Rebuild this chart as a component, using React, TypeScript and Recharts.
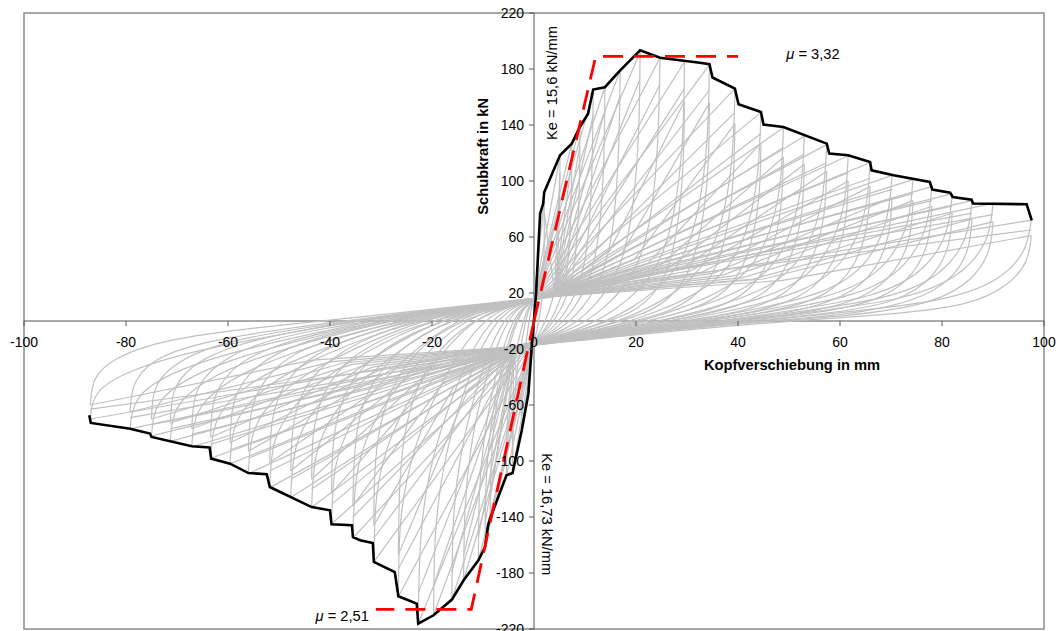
import React from "react";
import { LineChart, Line, XAxis, YAxis, ReferenceLine, ReferenceArea, ReferenceDot } from "recharts";

const xTicks = [-100, -80, -60, -40, -20, 0, 20, 40, 60, 80, 100];
const yTicks = [-220, -180, -140, -100, -60, -20, 20, 60, 100, 140, 180, 220];

// pinching points where the loops cross the force axis [mm, kN]
const pinchPos = [0, 15];
const pinchNeg = [0, -15];
const pinchPos2 = [4, 21];
const pinchNeg2 = [-4, -22];
const pinchPos3 = [2, 17];
const pinchNeg3 = [-2, -18];

// positive peaks, first cycle [mm, kN]
const posPeaks = [
  [2.0, 86], [5.1, 118], [7.4, 127], [9.0, 139], [11.6, 163], [13.9, 167], [16.9, 179],
  [20.8, 192], [24.7, 188], [29.5, 185], [34.4, 183], [39.4, 166], [44.5, 149], [48.9, 138],
  [53.0, 132], [57.4, 126], [61.6, 118], [65.9, 113], [70.2, 104], [74.3, 101], [78.0, 96],
  [82.0, 91], [85.9, 86], [90.0, 84], [97.5, 72],
];

// unloading branches after the positive peaks
const posArcs = [
  [[2.0, 60.2], [1.9, 36.1], [1.6, 17.2], [1.1, 4.3], [0.6, -6]],
  [[5.0, 82.6], [4.7, 49.6], [4.1, 23.6], [2.8, 5.9], [1.4, -6]],
  [[7.3, 88.9], [6.9, 53.3], [5.9, 25.4], [4.1, 6.4], [2.1, -6]],
  [[8.9, 97.3], [8.4, 58.4], [7.2, 27.8], [5.0, 7.0], [2.5, -6]],
  [[11.4, 114.1], [10.8, 68.5], [9.3, 32.6], [6.4, 8.2], [3.2, -6]],
  [[13.7, 116.9], [12.9, 70.1], [11.1, 33.4], [7.6, 8.4], [3.9, -6]],
  [[16.6, 125.3], [15.7, 75.2], [13.5, 35.8], [9.3, 9.0], [4.7, -6]],
  [[20.5, 134.4], [19.3, 80.6], [16.6, 38.4], [11.4, 9.6], [5.8, -6]],
  [[24.3, 131.6], [23.0, 79.0], [19.8, 37.6], [13.6, 9.4], [6.9, -6]],
  [[29.1, 129.5], [27.4, 77.7], [23.6, 37.0], [16.2, 9.3], [8.3, -6]],
  [[33.9, 128.1], [32.0, 76.9], [27.5, 36.6], [18.9, 9.2], [9.6, -6]],
  [[38.8, 116.2], [36.6, 69.7], [31.5, 33.2], [21.7, 8.3], [11.0, -6]],
  [[43.8, 104.3], [41.4, 62.6], [35.6, 29.8], [24.5, 7.5], [12.5, -6]],
  [[48.2, 96.6], [45.5, 58.0], [39.1, 27.6], [26.9, 6.9], [13.7, -6]],
  [[52.2, 92.4], [49.3, 55.4], [42.4, 26.4], [29.2, 6.6], [14.8, -6]],
  [[56.5, 88.2], [53.4, 52.9], [45.9, 25.2], [31.6, 6.3], [16.1, -6]],
  [[60.7, 82.6], [57.3, 49.6], [49.3, 23.6], [33.9, 5.9], [17.2, -6]],
  [[64.9, 79.1], [61.3, 47.5], [52.7, 22.6], [36.2, 5.7], [18.5, -6]],
  [[69.1, 72.8], [65.3, 43.7], [56.2, 20.8], [38.6, 5.2], [19.7, -6]],
  [[73.2, 70.7], [69.1, 42.4], [59.4, 20.2], [40.9, 5.1], [20.8, -6]],
  [[76.8, 67.2], [72.5, 40.3], [62.4, 19.2], [42.9, 4.8], [21.8, -6]],
  [[80.8, 63.7], [76.3, 38.2], [65.6, 18.2], [45.1, 4.6], [23.0, -6]],
  [[84.6, 60.2], [79.9, 36.1], [68.7, 17.2], [47.2, 4.3], [24.1, -6]],
  [[88.7, 58.8], [83.7, 35.3], [72.0, 16.8], [49.5, 4.2], [25.2, -6]],
  [[96.0, 50.4], [90.7, 30.2], [78.0, 14.4], [53.6, 3.6], [27.3, -6]],
];

// positive peaks, second cycle
const posPeaks2 = [
  [2.0, 78], [5.1, 106], [7.4, 114], [9.0, 125], [11.6, 147], [13.9, 150], [16.9, 161],
  [20.8, 173], [24.7, 169], [29.5, 166], [34.4, 165], [39.4, 149], [44.5, 134], [48.9, 124],
  [53.0, 119], [57.4, 113], [61.6, 106], [65.9, 102], [70.2, 94], [74.3, 91], [78.0, 86],
  [82.0, 82], [85.9, 77], [90.0, 76], [97.5, 65],
];

// third cycle: loading kink and peak, then unloading branch
const posKinks3 = [
  [14.8, 50], [17.2, 48], [19.7, 44], [22.3, 41], [24.5, 39], [26.5, 38], [28.7, 37], [30.8, 36],
  [33.0, 35], [35.1, 34], [37.2, 33], [39.0, 32], [41.0, 31], [43.0, 30], [45.0, 30], [48.8, 29],
];
const posPeaks3 = [
  [29.5, 157], [34.4, 156], [39.4, 141], [44.5, 127], [48.9, 117], [53.0, 112], [57.4, 107],
  [61.6, 100], [65.9, 96], [70.2, 88], [74.3, 86], [78.0, 82], [82.0, 77], [85.9, 73], [90.0, 71],
  [97.5, 61],
];
const posArcs3 = [
  [[29.2, 110], [28.0, 66], [25.4, 31], [20.1, 9], [11.2, -4]],
  [[34.1, 109], [32.7, 66], [29.6, 31], [23.4, 9], [13.1, -4]],
  [[39.0, 99], [37.4, 59], [33.9, 28], [26.8, 8], [15.0, -4]],
  [[44.1, 89], [42.3, 53], [38.3, 25], [30.3, 8], [16.9, -4]],
  [[48.4, 82], [46.5, 49], [42.1, 23], [33.3, 7], [18.6, -4]],
  [[52.5, 78], [50.4, 47], [45.6, 22], [36.0, 7], [20.1, -4]],
  [[56.8, 75], [54.5, 45], [49.4, 21], [39.0, 6], [21.8, -4]],
  [[61.0, 70], [58.5, 42], [53.0, 20], [41.9, 6], [23.4, -4]],
  [[65.2, 67], [62.6, 40], [56.7, 19], [44.8, 6], [25.0, -4]],
  [[69.5, 62], [66.7, 37], [60.4, 18], [47.7, 5], [26.7, -4]],
  [[73.6, 60], [70.6, 36], [63.9, 17], [50.5, 5], [28.2, -4]],
  [[77.2, 57], [74.1, 34], [67.1, 16], [53.0, 5], [29.6, -4]],
  [[81.2, 54], [77.9, 32], [70.5, 15], [55.8, 5], [31.2, -4]],
  [[85.0, 51], [81.6, 31], [73.9, 15], [58.4, 4], [32.6, -4]],
  [[89.1, 50], [85.5, 30], [77.4, 14], [61.2, 4], [34.2, -4]],
  [[96.5, 43], [92.6, 26], [83.9, 12], [66.3, 4], [37.1, -4]],
];

// negative peaks, first cycle [mm, kN]
const negPeaks = [
  [-2.4, -78], [-4.2, -108], [-5.4, -111], [-8.6, -141], [-9.6, -161], [-10.9, -171],
  [-13.8, -185], [-16.1, -199], [-19.7, -210], [-22.7, -216], [-26.6, -197], [-31.4, -172],
  [-35.5, -155], [-39.7, -145], [-43.6, -133], [-47.7, -126], [-51.8, -119], [-56.0, -109],
  [-59.6, -102], [-63.4, -98], [-67.1, -90], [-71.3, -86], [-75.0, -82], [-79.2, -77], [-87.0, -70],
];

// unloading branches after the negative peaks
const negArcs = [
  [[-2.4, -56.2], [-2.2, -39.0], [-1.8, -23.4], [-1.2, -6.2], [-0.6, 7]],
  [[-4.1, -77.8], [-3.8, -54.0], [-3.2, -32.4], [-2.1, -8.6], [-1.1, 7]],
  [[-5.3, -79.9], [-4.9, -55.5], [-4.1, -33.3], [-2.7, -8.9], [-1.4, 7]],
  [[-8.4, -101.5], [-7.7, -70.5], [-6.5, -42.3], [-4.3, -11.3], [-2.2, 7]],
  [[-9.4, -115.9], [-8.6, -80.5], [-7.2, -48.3], [-4.8, -12.9], [-2.4, 7]],
  [[-10.7, -123.1], [-9.8, -85.5], [-8.2, -51.3], [-5.5, -13.7], [-2.7, 7]],
  [[-13.5, -133.2], [-12.4, -92.5], [-10.4, -55.5], [-6.9, -14.8], [-3.5, 7]],
  [[-15.8, -143.3], [-14.5, -99.5], [-12.1, -59.7], [-8.1, -15.9], [-4.0, 7]],
  [[-19.3, -151.2], [-17.7, -105.0], [-14.8, -63.0], [-9.9, -16.8], [-4.9, 7]],
  [[-22.2, -155.5], [-20.4, -108.0], [-17.0, -64.8], [-11.4, -17.3], [-5.7, 7]],
  [[-26.1, -141.8], [-23.9, -98.5], [-20.0, -59.1], [-13.3, -15.8], [-6.7, 7]],
  [[-30.8, -123.8], [-28.3, -86.0], [-23.6, -51.6], [-15.7, -13.8], [-7.9, 7]],
  [[-34.8, -111.6], [-32.0, -77.5], [-26.6, -46.5], [-17.8, -12.4], [-8.9, 7]],
  [[-38.9, -104.4], [-35.7, -72.5], [-29.8, -43.5], [-19.9, -11.6], [-9.9, 7]],
  [[-42.7, -95.8], [-39.2, -66.5], [-32.7, -39.9], [-21.8, -10.6], [-10.9, 7]],
  [[-46.7, -90.7], [-42.9, -63.0], [-35.8, -37.8], [-23.9, -10.1], [-11.9, 7]],
  [[-50.8, -85.7], [-46.6, -59.5], [-38.9, -35.7], [-25.9, -9.5], [-13.0, 7]],
  [[-54.9, -78.5], [-50.4, -54.5], [-42.0, -32.7], [-28.0, -8.7], [-14.0, 7]],
  [[-58.4, -73.4], [-53.6, -51.0], [-44.7, -30.6], [-29.8, -8.2], [-14.9, 7]],
  [[-62.1, -70.6], [-57.1, -49.0], [-47.6, -29.4], [-31.7, -7.8], [-15.9, 7]],
  [[-65.8, -64.8], [-60.4, -45.0], [-50.3, -27.0], [-33.6, -7.2], [-16.8, 7]],
  [[-69.9, -61.9], [-64.2, -43.0], [-53.5, -25.8], [-35.7, -6.9], [-17.8, 7]],
  [[-73.5, -59.0], [-67.5, -41.0], [-56.3, -24.6], [-37.5, -6.6], [-18.8, 7]],
  [[-77.6, -55.4], [-71.3, -38.5], [-59.4, -23.1], [-39.6, -6.2], [-19.8, 7]],
  [[-85.3, -50.4], [-78.3, -35.0], [-65.3, -21.0], [-43.5, -5.6], [-21.8, 7]],
];

// negative peaks, second cycle
const negPeaks2 = [
  [-2.4, -70], [-4.2, -97], [-5.4, -100], [-8.6, -127], [-9.6, -145], [-10.9, -154],
  [-13.8, -167], [-16.1, -179], [-19.7, -189], [-22.7, -194], [-26.6, -177], [-31.4, -155],
  [-35.5, -140], [-39.7, -131], [-43.6, -120], [-47.7, -113], [-51.8, -107], [-56.0, -98],
  [-59.6, -92], [-63.4, -88], [-67.1, -81], [-71.3, -77], [-75.0, -74], [-79.2, -69], [-87.0, -63],
];

// negative third cycle
const negKinks3 = [
  [-13.3, -52], [-15.7, -47], [-17.8, -44], [-19.9, -42], [-21.8, -40], [-23.9, -38], [-25.9, -37],
  [-28.0, -35], [-29.8, -34], [-31.7, -33], [-33.6, -32], [-35.7, -31], [-37.5, -30], [-39.6, -29],
  [-43.5, -28],
];
const negPeaks3 = [
  [-26.6, -167], [-31.4, -146], [-35.5, -132], [-39.7, -123], [-43.6, -113], [-47.7, -107],
  [-51.8, -101], [-56.0, -93], [-59.6, -87], [-63.4, -83], [-67.1, -77], [-71.3, -73],
  [-75.0, -70], [-79.2, -65], [-87.0, -60],
];
const negArcs3 = [
  [[-26.3, -117], [-25.0, -75], [-21.8, -40], [-16.0, -12], [-8.0, 6]],
  [[-31.1, -102], [-29.5, -66], [-25.7, -35], [-18.8, -10], [-9.4, 6]],
  [[-35.1, -92], [-33.4, -59], [-29.1, -32], [-21.3, -9], [-10.7, 6]],
  [[-39.3, -86], [-37.3, -55], [-32.6, -30], [-23.8, -9], [-11.9, 6]],
  [[-43.2, -79], [-41.0, -51], [-35.8, -27], [-26.2, -8], [-13.1, 6]],
  [[-47.2, -75], [-44.8, -48], [-39.1, -26], [-28.6, -7], [-14.3, 6]],
  [[-51.3, -71], [-48.7, -45], [-42.5, -24], [-31.1, -7], [-15.5, 6]],
  [[-55.4, -65], [-52.6, -42], [-45.9, -22], [-33.6, -7], [-16.8, 6]],
  [[-59.0, -61], [-56.0, -39], [-48.9, -21], [-35.8, -6], [-17.9, 6]],
  [[-62.8, -58], [-59.6, -37], [-52.0, -20], [-38.0, -6], [-19.0, 6]],
  [[-66.4, -54], [-63.1, -35], [-55.0, -18], [-40.3, -5], [-20.1, 6]],
  [[-70.6, -51], [-67.0, -33], [-58.5, -18], [-42.8, -5], [-21.4, 6]],
  [[-74.3, -49], [-70.5, -32], [-61.5, -17], [-45.0, -5], [-22.5, 6]],
  [[-78.4, -46], [-74.4, -29], [-64.9, -16], [-47.5, -5], [-23.8, 6]],
  [[-86.1, -42], [-81.8, -27], [-71.3, -14], [-52.2, -4], [-26.1, 6]],
];

// envelope curve (black)
const envelope = [
  [-87.2, -67.4], [-86.9, -72.8], [-79.2, -76.9], [-75.3, -80.4], [-75.0, -82.8], [-67.1, -89.5],
  [-63.6, -90.4], [-63.3, -98.3], [-59.6, -101.9], [-56.0, -108.6], [-52.4, -109.5], [-51.8, -118.6],
  [-43.6, -132.9], [-40.0, -135.2], [-39.7, -145.2], [-35.7, -145.9], [-35.5, -154.3], [-34.1, -156.6],
  [-31.6, -158.6], [-31.4, -172.1], [-27.3, -179.3], [-26.6, -196.6], [-23.0, -201.9], [-22.7, -216.1],
  [-19.7, -210.2], [-16.1, -199.0], [-13.8, -185.2], [-10.9, -170.9], [-9.6, -161.4], [-9.0, -145.9],
  [-8.6, -141.1], [-5.4, -110.2], [-4.2, -108.6], [-2.4, -78.0], [-1.1, -51.9], [-0.45, -18.6],
  [0.0, 0.5], [0.4, 19.6], [1.2, 76.7], [1.8, 83.9], [2.0, 92.0], [5.1, 118.4], [7.4, 126.7],
  [9.0, 138.6], [10.6, 148.0], [11.6, 165.3], [13.9, 167.0], [16.9, 179.0], [20.8, 193.4],
  [24.7, 188.0], [32.5, 184.5], [34.4, 183.4], [35.0, 173.9], [39.4, 166.0], [40.1, 154.8],
  [44.5, 149.3], [45.0, 140.3], [48.9, 138.6], [57.4, 126.7], [57.9, 119.6], [61.6, 118.4],
  [65.9, 113.6], [66.2, 107.6], [70.5, 104.1], [77.6, 99.3], [78.1, 93.9], [81.6, 91.7],
  [82.1, 88.6], [85.8, 86.7], [86.1, 83.9], [96.6, 83.4], [97.6, 71.9],
];

// bilinear idealisation (red dashed)
const keUpper = [[0, 0], [12.1, 189], [40, 189]];
const keLower = [[0, 0], [-12.3, -206], [-31, -206]];

const pts = (arr: number[][]) => arr.map(([x, y]) => ({ x, y }));

const FONT = "'Liberation Sans', Arial, sans-serif";
const GREY = "#c0c0c0";

const loadLines = [
  ...posPeaks.map((p) => pts([pinchPos, p])),
  ...negPeaks.map((p) => pts([pinchNeg, p])),
  ...posPeaks2.map((p) => pts([pinchPos2, p])),
  ...negPeaks2.map((p) => pts([pinchNeg2, p])),
  ...posPeaks3.map((p, i) => pts([pinchPos3, posKinks3[i], p])),
  ...negPeaks3.map((p, i) => pts([pinchNeg3, negKinks3[i], p])),
];
const arcLines = [
  ...posPeaks.map((p, i) => pts([p, ...posArcs[i], pinchNeg])),
  ...negPeaks.map((p, i) => pts([p, ...negArcs[i], pinchPos])),
  ...posPeaks3.map((p, i) => pts([p, ...posArcs3[i], pinchNeg3])),
  ...negPeaks3.map((p, i) => pts([p, ...negArcs3[i], pinchPos3])),
];

const xTickShape = (v: number) => (p: any) => (
  <g>
    <line x1={p.cx} y1={p.cy} x2={p.cx} y2={p.cy + 5} stroke="#555" strokeWidth={1} />
    <text x={p.cx} y={p.cy + 26} textAnchor="middle" fontSize={14} fontFamily={FONT} fill="#000">
      {v}
    </text>
  </g>
);

const yTickShape = (v: number) => (p: any) => (
  <g>
    <line x1={p.cx - 5} y1={p.cy} x2={p.cx} y2={p.cy} stroke="#555" strokeWidth={1} />
    <text x={p.cx - 10} y={p.cy + 5} textAnchor="end" fontSize={14} fontFamily={FONT} fill="#000">
      {v}
    </text>
  </g>
);

const textShape = (content: React.ReactNode, rotate = 0, bold = false) => (p: any) => (
  <text
    x={p.cx}
    y={p.cy}
    textAnchor="middle"
    dominantBaseline="central"
    fontSize={14.7}
    fontWeight={bold ? "bold" : "normal"}
    fontFamily={FONT}
    fill="#000"
    transform={rotate ? `rotate(${rotate}, ${p.cx}, ${p.cy})` : undefined}
  >
    {content}
  </text>
);

const mu = (val: string) => (
  <>
    <tspan fontStyle="italic">μ</tspan>
    {" = " + val}
  </>
);

export default function App() {
  return (
    <div style={{ position: "absolute", left: 0, top: 0, background: "#fff" }}>
      <LineChart width={1059} height={631} margin={{ top: 13, right: 15, bottom: 2, left: 24 }}>
        <XAxis type="number" dataKey="x" domain={[-100, 100]} hide allowDataOverflow />
        <YAxis type="number" dataKey="y" domain={[-220, 220]} hide allowDataOverflow />
        <ReferenceArea x1={-100} x2={100} y1={-220} y2={220} fill="none" stroke="#8a8a8a" strokeWidth={1.5} />
        <ReferenceLine x={0} stroke="#555" strokeWidth={1} />
        <ReferenceLine y={0} stroke="#555" strokeWidth={1} />
        {loadLines.map((d, i) => (
          <Line key={"l" + i} data={d} dataKey="y" type="linear" stroke={GREY} strokeWidth={1.2}
            dot={false} activeDot={false} isAnimationActive={false} />
        ))}
        {arcLines.map((d, i) => (
          <Line key={"a" + i} data={d} dataKey="y" type="natural" stroke={GREY} strokeWidth={1.2}
            dot={false} activeDot={false} isAnimationActive={false} />
        ))}
        <Line data={pts(envelope)} dataKey="y" type="linear" stroke="#000" strokeWidth={2.6}
          dot={false} activeDot={false} isAnimationActive={false} />
        <Line data={pts(keUpper)} dataKey="y" type="linear" stroke="#ff0000" strokeWidth={2.8}
          strokeDasharray="20 11" dot={false} activeDot={false} isAnimationActive={false} />
        <Line data={pts(keLower)} dataKey="y" type="linear" stroke="#ff0000" strokeWidth={2.8}
          strokeDasharray="20 11" dot={false} activeDot={false} isAnimationActive={false} />
        {xTicks.map((v) => (
          <ReferenceDot key={"xt" + v} x={v} y={0} r={0} shape={xTickShape(v)} />
        ))}
        {yTicks.map((v) => (
          <ReferenceDot key={"yt" + v} x={0} y={v} r={0} shape={yTickShape(v)} />
        ))}
        <ReferenceDot x={50.6} y={-31.6} r={0} shape={textShape("Kopfverschiebung in mm", 0, true)} />
        <ReferenceDot x={-10} y={117.6} r={0} shape={textShape("Schubkraft in kN", -90, true)} />
        <ReferenceDot x={3.47} y={170} r={0} shape={textShape("Ke = 15,6 kN/mm", -90)} />
        <ReferenceDot x={2.49} y={-138} r={0} shape={textShape("Ke = 16,73 kN/mm", 90)} />
        <ReferenceDot x={54.7} y={191} r={0} shape={textShape(mu("3,32"))} />
        <ReferenceDot x={-37.6} y={-211} r={0} shape={textShape(mu("2,51"))} />
      </LineChart>
    </div>
  );
}
